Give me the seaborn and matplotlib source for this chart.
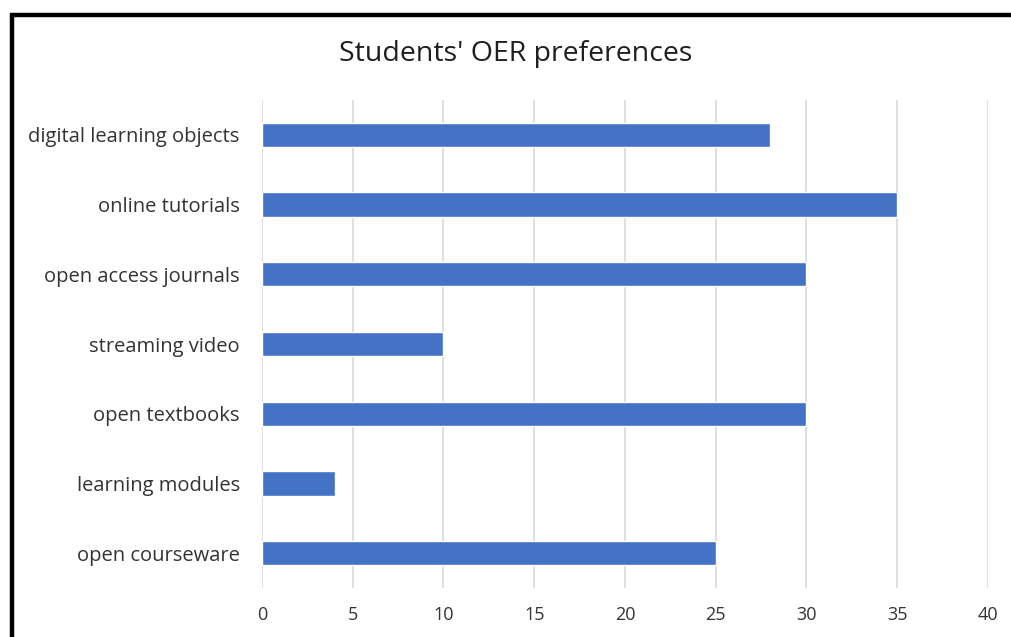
import matplotlib
matplotlib.use("Agg")
import matplotlib.pyplot as plt
import pandas as pd
import seaborn as sns
from matplotlib.patches import Rectangle

# Survey values
resources = [
    "digital learning objects",
    "online tutorials",
    "open access journals",
    "streaming video",
    "open textbooks",
    "learning modules",
    "open courseware",
]
counts = [28, 35, 30, 10, 30, 4, 25]
x_ticks = [0, 5, 10, 15, 20, 25, 30, 35, 40]

sns.set_theme(style="white")
plt.rcParams["font.family"] = ["Open Sans", "DejaVu Sans"]

df = pd.DataFrame({"resource": resources, "count": counts})

fig = plt.figure(figsize=(10.12, 6.37), dpi=100)
ax = fig.add_axes([262 / 1012, 1 - 588 / 637, (988 - 262) / 1012, (588 - 100) / 637])

ax.xaxis.grid(True, color="#d9d9d9", linewidth=1.2)
ax.set_axisbelow(True)
sns.barplot(data=df, x="count", y="resource", orient="h", color="#4472c4",
            saturation=1, width=0.35, ax=ax)

ax.set_xlim(0, 40)
ax.set_ylim(6.5, -0.5)
ax.set_xticks(x_ticks)
ax.set_xlabel("")
ax.set_ylabel("")
ax.tick_params(axis="x", length=0, pad=13, labelsize=13, labelcolor="#333333")
ax.tick_params(axis="y", length=0, pad=16, labelsize=14.5, labelcolor="#333333")
sns.despine(ax=ax, left=True, bottom=True)

fig.text(516 / 1012, 1 - 54 / 637, "Students' OER preferences", ha="center",
         va="center", fontsize=20.5, color="#1f1f1f")

# black frame around the chart (cropped on the right and bottom)
fig.patches.append(Rectangle((12 / 1012, -0.1), 1.2, 1 - 15 / 637 + 0.1,
                             transform=fig.transFigure, fill=False,
                             edgecolor="black", linewidth=3.2))

fig.savefig("out.png", dpi=100, facecolor="white")
